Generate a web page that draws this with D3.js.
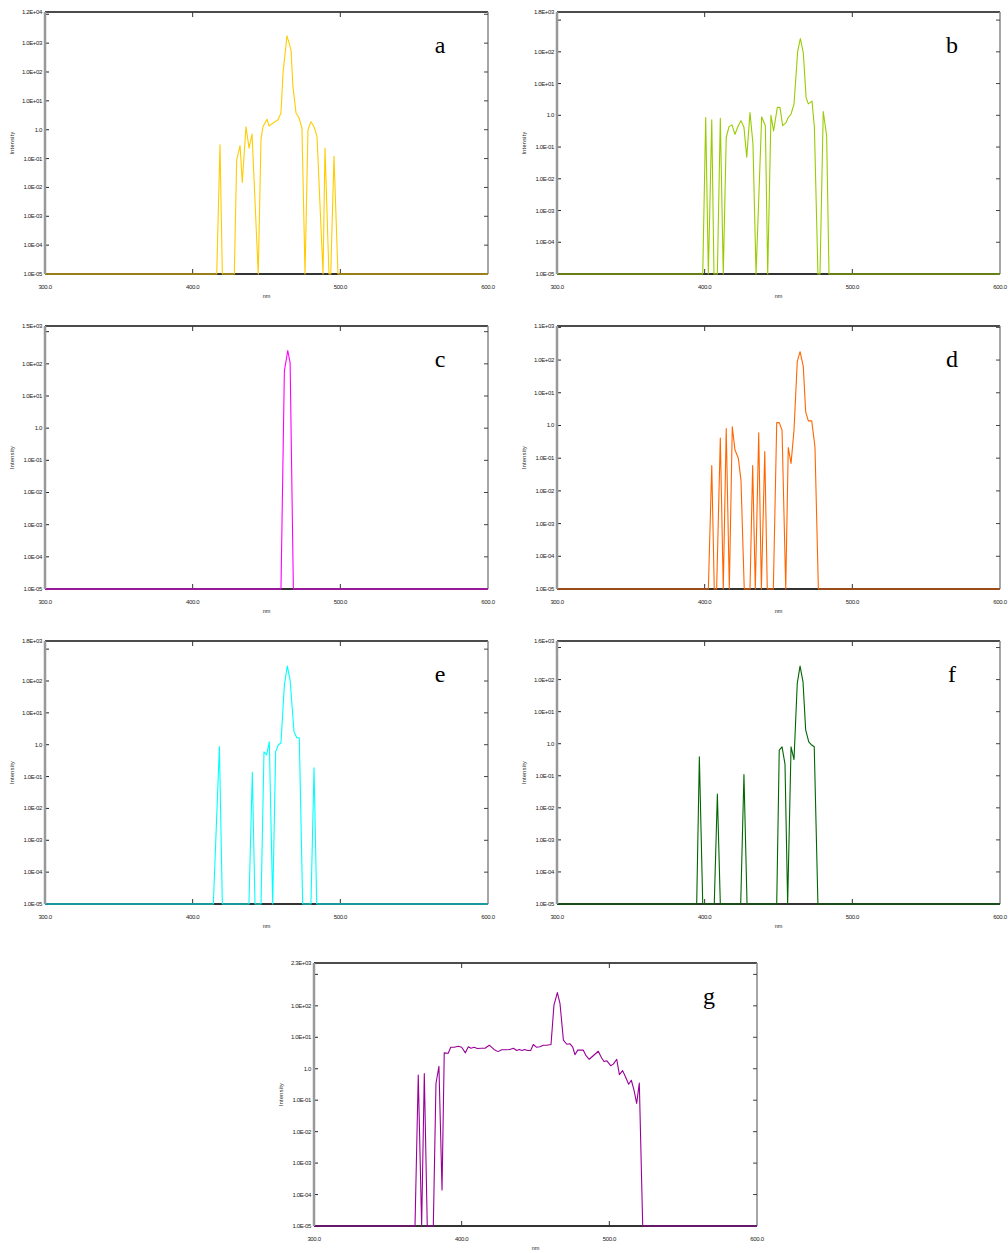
<!DOCTYPE html>
<html>
<head>
<meta charset="utf-8">
<script src="https://cdn.jsdelivr.net/npm/d3@7"></script>
<style>
  body { margin: 0; background: #fff; }
  svg text { font-family: "Liberation Sans Narrow", "Liberation Sans", Arial, sans-serif; }
</style>
</head>
<body>
<div id="chart"></div>
<script>
// Data (nm, intensity); 1e-5 is the floor of the log axis
const nmA  = [300, 416.3, 418.5, 420.1, 428.2, 429.8, 432.1, 433.6, 436.1, 438.2, 440.2, 444.4, 446.3, 447.6, 450.3, 451.7, 453.7, 457.8, 459.8, 461.2, 463.9, 466.6, 467.9, 470, 472, 474, 476.1, 478.1, 480.1, 482.2, 484.2, 488.3, 489.6, 492.3, 493.5, 495.7, 498.4, 600];
const intA = [1e-5, 1e-5, 0.30, 1e-5, 1e-5, 0.089, 0.28, 0.015, 1.26, 0.23, 0.71, 1e-5, 0.5, 1.26, 2.3, 1.35, 1.6, 2.2, 3.8, 93, 1800, 575, 31, 3.8, 2.6, 1.15, 1e-5, 1.0, 1.9, 1.26, 0.58, 1e-5, 0.23, 1e-5, 1e-5, 0.12, 1e-5, 1e-5];

const nmB  = [300, 398.7, 400.7, 402.5, 404.8, 406.3, 408.6, 410.6, 412.6, 414.6, 416.5, 418.5, 420.5, 422.6, 424.6, 426.6, 428.5, 430.7, 432.7, 434.8, 438.6, 441.1, 442.7, 444.9, 446.7, 449.2, 451, 452.8, 455.1, 456.6, 458.5, 460.5, 463, 464.8, 466.8, 468.7, 470.2, 472.7, 474.3, 476.7, 478.1, 480.3, 482.6, 484.2, 600];
const intB = [1e-5, 1e-5, 0.85, 1e-5, 0.72, 1e-5, 1e-5, 0.81, 1e-5, 0.2, 0.44, 0.5, 0.25, 0.45, 0.68, 0.42, 0.048, 1.23, 0.126, 1e-5, 0.89, 0.47, 1e-5, 1.0, 0.32, 1.78, 1.78, 0.47, 0.59, 0.85, 1.1, 2.24, 105, 263, 93, 3.6, 2.3, 2.8, 0.42, 1e-5, 1e-5, 1.32, 0.23, 1e-5, 1e-5];

const nmC  = [300, 459.8, 462.1, 464.4, 466, 468.2, 600];
const intC = [1e-5, 1e-5, 59, 260, 107, 1e-5, 1e-5];

const nmD  = [300, 402.5, 404.8, 406.5, 408.1, 410.6, 412.6, 414.6, 416.7, 418.7, 420.5, 422.8, 424.6, 426.8, 430.7, 432.5, 434.3, 436.6, 438.4, 440.7, 442.4, 446.5, 448.8, 450.5, 452.4, 454.9, 456.6, 458.5, 460.5, 462.7, 464.6, 466.8, 468.4, 470.2, 472.5, 474.7, 477, 600];
const intD = [1e-5, 1e-5, 0.06, 1e-5, 1e-5, 0.41, 1e-5, 0.81, 1e-5, 0.91, 0.18, 0.1, 0.021, 1e-5, 1e-5, 0.06, 1e-5, 0.6, 1e-5, 0.16, 1e-5, 1e-5, 1.22, 1.22, 0.72, 1e-5, 0.21, 0.069, 0.72, 89, 180, 63, 2.6, 1.38, 1.38, 0.22, 1e-5, 1e-5];

const nmE  = [300, 414, 418.1, 420.1, 438.1, 440.4, 442.2, 446.3, 448.3, 450.1, 451.9, 454.2, 456.2, 458, 459.8, 462.1, 464.1, 466, 468.6, 470.5, 472.2, 474.5, 480.1, 482.2, 484, 600];
const intE = [1e-5, 1e-5, 0.87, 1e-5, 1e-5, 0.135, 1e-5, 1e-5, 0.6, 0.48, 1.24, 1e-5, 0.6, 0.98, 1.15, 74, 295, 107, 2.6, 1.66, 1.66, 1e-5, 1e-5, 0.19, 1e-5, 1e-5];

const nmF  = [300, 394.6, 396.4, 398.7, 406.5, 408.6, 410.6, 424.4, 426.6, 428.7, 448.8, 450.5, 452.4, 454.4, 456.2, 458.5, 460.5, 462.7, 464.6, 466.6, 468.4, 470.5, 472.5, 474.2, 476.7, 600];
const intF = [1e-5, 1e-5, 0.39, 1e-5, 1e-5, 0.027, 1e-5, 1e-5, 0.11, 1e-5, 1e-5, 0.63, 0.8, 0.23, 1e-5, 0.8, 0.32, 76, 263, 85, 2.7, 1.15, 0.91, 0.8, 1e-5, 1e-5];

const nmG  = [300, 368.4, 370.6, 372.9, 374.7, 376.7, 380.8, 382.6, 384.6, 386.7, 388.2, 390.9, 392.6, 395, 397.7, 400, 402.5, 404.5, 406.3, 408.4, 410.6, 413.3, 415.8, 418.7, 421.9, 424.6, 427.1, 430, 432.7, 435, 437.3, 439, 440.9, 442.7, 444.7, 446.7, 448.5, 450.8, 453, 455.3, 457.6, 460.5, 462.5, 464.8, 466.6, 468.9, 471.2, 473.4, 475.2, 476.7, 478.6, 482.4, 484.2, 486.4, 488.7, 492.5, 494.8, 496.4, 498.2, 500.9, 502.7, 505, 506.8, 509, 510.6, 513.1, 514.9, 516.7, 518.5, 520.3, 522.6, 600];
const intG = [1e-5, 1e-5, 0.63, 1e-5, 0.7, 1e-5, 1e-5, 0.34, 1.2, 1.4e-4, 3.2, 3.1, 4.8, 4.8, 5.2, 4.8, 3.2, 5.0, 4.5, 4.8, 4.4, 4.5, 4.5, 5.6, 4.1, 3.5, 4.0, 4.0, 4.1, 4.5, 3.8, 4.1, 3.8, 4.1, 3.8, 3.8, 5.9, 4.8, 5.0, 5.6, 5.6, 5.9, 105, 263, 117, 8.1, 6.0, 6.2, 4.9, 2.8, 3.9, 3.9, 2.6, 2.0, 2.5, 3.6, 2.2, 1.7, 1.8, 1.25, 1.4, 2.0, 0.65, 0.87, 0.6, 0.32, 0.43, 0.21, 0.079, 0.35, 1e-5, 1e-5];

const panelLetters = ["a", "b", "c", "d", "e", "f", "g"];
const yMaxValues = [1.2e4, 1.8e3, 1.5e3, 1.1e3, 1.8e3, 1.6e3, 2.3e3];
const yMaxLabels = ["1.2E+04", "1.8E+03", "1.5E+03", "1.1E+03", "1.8E+03", "1.6E+03", "2.3E+03"];
const xTicks = [300, 400, 500, 600];

// Layout
const W = 1008, H = 1253;
const pw = 443;
const layout = [
  { left: 45,  top: 12,  h: 262 },
  { left: 557, top: 12,  h: 262 },
  { left: 45,  top: 326, h: 263 },
  { left: 557, top: 326, h: 263 },
  { left: 45,  top: 641, h: 263 },
  { left: 557, top: 641, h: 263 },
  { left: 314, top: 963, h: 263 },
];
const colors = ["#ffcc00", "#99cc00", "#ff00ff", "#ff6600", "#00ffff", "#006600", "#990099"];
const series = [[nmA, intA], [nmB, intB], [nmC, intC], [nmD, intD], [nmE, intE], [nmF, intF], [nmG, intG]];

const svg = d3.select("#chart").append("svg")
  .attr("width", W).attr("height", H);

function fmt(e) {
  if (e === 0) return "1.0";
  const s = e < 0 ? "-" : "+";
  return "1.0E" + s + String(Math.abs(e)).padStart(2, "0");
}

series.forEach(([xs, ys], i) => {
  const L = layout[i];
  const g = svg.append("g").attr("transform", `translate(${L.left},${L.top})`);

  const x = d3.scaleLinear().domain([300, 600]).range([0, pw]);
  const y = d3.scaleLog().domain([1e-5, yMaxValues[i]]).range([L.h, 0]);

  const pts = xs.map((v, k) => [v, ys[k]]);
  const line = d3.line().x(d => x(d[0])).y(d => y(d[1]));

  // frame: top black, right grey, bottom dark
  g.append("line").attr("x1", 0).attr("x2", pw).attr("y1", 0).attr("y2", 0)
    .attr("stroke", "#111").attr("stroke-width", 1.5);
  g.append("line").attr("x1", pw).attr("x2", pw).attr("y1", 0).attr("y2", L.h)
    .attr("stroke", "#888").attr("stroke-width", 1.5);
  g.append("line").attr("x1", 0).attr("x2", pw).attr("y1", L.h).attr("y2", L.h)
    .attr("stroke", "#333").attr("stroke-width", 2);

  // decade ticks
  const top = Math.log10(yMaxValues[i]);
  const decades = d3.range(-5, Math.floor(top) + 1);
  decades.forEach(e => {
    const yy = y(Math.pow(10, e));
    g.append("line").attr("x1", 0).attr("x2", 4).attr("y1", yy).attr("y2", yy)
      .attr("stroke", "#222").attr("stroke-width", 1);
    g.append("line").attr("x1", pw - 4).attr("x2", pw).attr("y1", yy).attr("y2", yy)
      .attr("stroke", "#444").attr("stroke-width", 1);
    if (yy > 16) {
      g.append("text").attr("x", -3).attr("y", yy + 2)
        .attr("text-anchor", "end").attr("font-size", 6).attr("fill", "#222")
        .attr("letter-spacing", -0.35)
        .text(fmt(e));
    }
  });
  g.append("text").attr("x", -3).attr("y", 2)
    .attr("text-anchor", "end").attr("font-size", 6).attr("fill", "#222")
    .attr("letter-spacing", -0.35)
    .text(yMaxLabels[i]);

  // x ticks
  xTicks.forEach(t => {
    const xx = x(t);
    if (t !== 300 && t !== 600) {
      g.append("line").attr("x1", xx).attr("x2", xx).attr("y1", 0).attr("y2", 5)
        .attr("stroke", "#333").attr("stroke-width", 1);
      g.append("line").attr("x1", xx).attr("x2", xx).attr("y1", L.h - 5).attr("y2", L.h)
        .attr("stroke", "#333").attr("stroke-width", 1);
    }
    g.append("text").attr("x", xx).attr("y", L.h + 15)
      .attr("text-anchor", "middle").attr("font-size", 6).attr("fill", "#222")
      .attr("letter-spacing", -0.35)
      .text(t.toFixed(1));
  });

  g.append("path").datum(pts)
    .attr("d", line)
    .attr("fill", "none")
    .attr("stroke", colors[i])
    .attr("stroke-width", 1.1)
    .attr("stroke-linejoin", "round");

  // left axis grey
  g.append("line").attr("x1", 0).attr("x2", 0).attr("y1", 0).attr("y2", L.h)
    .attr("stroke", "#999").attr("stroke-width", 2.5);

  // axis titles
  g.append("text").attr("x", pw / 2).attr("y", L.h + 24)
    .attr("text-anchor", "middle").attr("font-size", 5.5).attr("fill", "#222")
    .text("nm");
  g.append("text")
    .attr("transform", `translate(-31,${L.h / 2}) rotate(-90)`)
    .attr("text-anchor", "middle").attr("font-size", 5.5).attr("fill", "#222")
    .attr("letter-spacing", 0.3)
    .text("Intensity");

  // panel letter
  g.append("text").attr("x", 395).attr("y", 41)
    .attr("text-anchor", "middle")
    .style("font-family", "'Liberation Serif', 'Times New Roman', serif")
    .attr("font-size", 24).attr("fill", "#000")
    .text(panelLetters[i]);
});
</script>
</body>
</html>
